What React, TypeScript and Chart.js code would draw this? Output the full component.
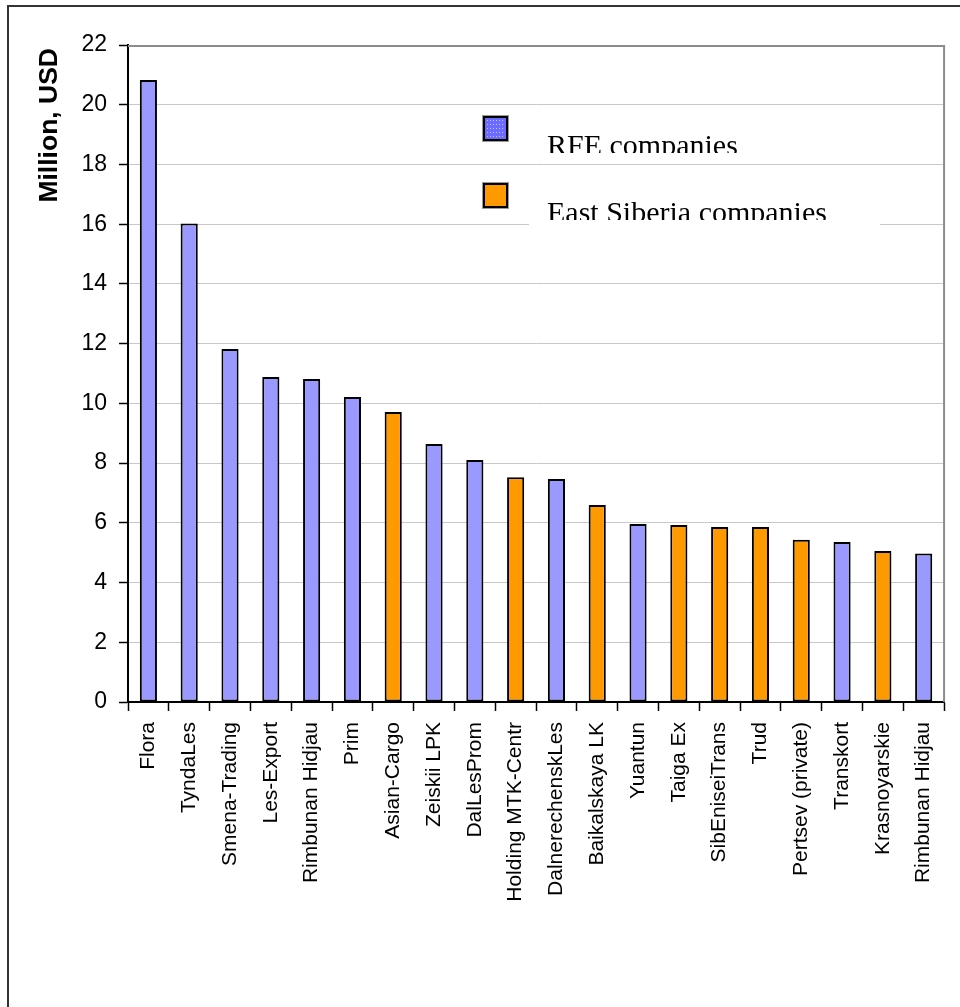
import React, { useEffect, useRef } from "react";
import { Chart, registerables } from "chart.js";

Chart.register(...registerables);

const categories = [
  "Flora",
  "TyndaLes",
  "Smena-Trading",
  "Les-Export",
  "Rimbunan Hidjau",
  "Prim",
  "Asian-Cargo",
  "Zeiskii LPK",
  "DalLesProm",
  "Holding MTK-Centr",
  "DalnerechenskLes",
  "Baikalskaya LK",
  "Yuantun",
  "Taiga Ex",
  "SibEniseiTrans",
  "Trud",
  "Pertsev (private)",
  "Transkort",
  "Krasnoyarskie",
  "Rimbunan Hidjau",
];

const values = [
  20.83, 16.02, 11.82, 10.88, 10.82, 10.21, 9.71, 8.64, 8.1, 7.53, 7.47, 6.6,
  5.96, 5.93, 5.86, 5.86, 5.43, 5.36, 5.06, 4.97,
];

const regions = [
  "RFE", "RFE", "RFE", "RFE", "RFE", "RFE", "ES", "RFE", "RFE", "ES",
  "RFE", "ES", "RFE", "ES", "ES", "ES", "ES", "RFE", "ES", "RFE",
];

const legendLabels = ["RFE companies", "East Siberia companies"];
const yTitle = "Million, USD";

const BLUE = "#9999ff";
const ORANGE = "#ff9900";
const SANS = '"Liberation Sans", Arial, sans-serif';
const SERIF = '"Liberation Serif", "Times New Roman", serif';

const decor = {
  id: "decor",
  beforeDatasetsDraw(chart: any) {
    const ctx = chart.ctx;
    ctx.save();
    ctx.fillStyle = "#ffffff";
    ctx.fillRect(529, 200, 351, 28);
    ctx.restore();
  },
  afterDraw(chart: any) {
    const ctx = chart.ctx;
    const ca = chart.chartArea;
    ctx.save();
    ctx.strokeStyle = "#8c8c8c";
    ctx.lineWidth = 2;
    ctx.beginPath();
    ctx.moveTo(ca.left, ca.top + 1);
    ctx.lineTo(ca.right, ca.top + 1);
    ctx.lineTo(ca.right, ca.bottom);
    ctx.stroke();

    ctx.save();
    ctx.translate(50, 48);
    ctx.rotate(-Math.PI / 2);
    ctx.font = `bold 26.5px ${SANS}`;
    ctx.fillStyle = "#000";
    ctx.textAlign = "right";
    ctx.textBaseline = "middle";
    ctx.fillText(yTitle, 0, 0);
    ctx.restore();

    const drawMarker = (y: number, fill: string, dotted: boolean) => {
      ctx.fillStyle = fill;
      ctx.fillRect(484, y + 1, 23, 23);
      if (dotted) {
        ctx.fillStyle = "#c4c4ff";
        for (let yy = y + 4; yy < y + 22; yy += 4) {
          for (let xx = 487; xx < 505; xx += 3) {
            ctx.fillRect(xx, yy, 1, 1);
          }
        }
      }
      ctx.strokeStyle = "#9a9a9a";
      ctx.lineWidth = 1;
      ctx.strokeRect(482.5, y - 0.5, 26, 26);
      ctx.strokeStyle = "#000";
      ctx.lineWidth = 2;
      ctx.strokeRect(484, y + 1, 23, 23);
    };
    drawMarker(116, "#6b6bff", true);
    drawMarker(183, ORANGE, false);

    ctx.fillStyle = "#000";
    ctx.font = `30px ${SERIF}`;
    ctx.textAlign = "left";
    ctx.textBaseline = "alphabetic";
    ctx.save();
    ctx.beginPath();
    ctx.rect(540, 100, 400, 53);
    ctx.clip();
    ctx.fillText(legendLabels[0], 547, 155);
    ctx.restore();
    ctx.save();
    ctx.beginPath();
    ctx.rect(540, 180, 400, 40);
    ctx.clip();
    ctx.fillText(legendLabels[1], 547, 222);
    ctx.restore();

    ctx.strokeStyle = "#333333";
    ctx.lineWidth = 2;
    ctx.strokeRect(8, 6, 1200, 1200);
    ctx.restore();
  },
};

export default function App() {
  const ref = useRef<HTMLCanvasElement | null>(null);

  useEffect(() => {
    if (!ref.current) return;
    const chart = new Chart(ref.current, {
      type: "bar",
      data: {
        labels: categories,
        datasets: [
          {
            data: values,
            backgroundColor: regions.map((r) => (r === "RFE" ? BLUE : ORANGE)),
            borderColor: "#000",
            borderWidth: 2,
            borderSkipped: false,
            barPercentage: 0.42,
            categoryPercentage: 1,
          },
        ],
      },
      options: {
        responsive: false,
        animation: false,
        layout: { padding: { left: 0, top: 45, right: 5, bottom: 0 } },
        plugins: {
          legend: { display: false },
          tooltip: { enabled: false },
          title: { display: false },
        },
        scales: {
          x: {
            type: "category",
            offset: true,
            grid: {
              display: true,
              drawOnChartArea: false,
              drawTicks: true,
              tickLength: 9,
              tickColor: "#000",
              tickWidth: 1.5,
              offset: true,
            },
            border: { display: true, color: "#000", width: 2 },
            ticks: {
              autoSkip: false,
              minRotation: 90,
              maxRotation: 90,
              padding: 11,
              color: "#000",
              font: { family: SANS, size: 21 },
            },
            afterFit: (s: any) => {
              s.height = 305;
            },
          },
          y: {
            min: 0,
            max: 22,
            ticks: {
              stepSize: 2,
              padding: 12,
              color: "#000",
              font: { family: SANS, size: 23 },
            },
            grid: {
              color: "#c8c8c8",
              lineWidth: 1,
              tickColor: "#000",
              tickLength: 9,
              tickWidth: 1.5,
            },
            border: { color: "#000", width: 2 },
            afterFit: (s: any) => {
              s.width = 128;
            },
          },
        },
      },
      plugins: [decor],
    });
    return () => chart.destroy();
  }, []);

  return (
    <div style={{ position: "fixed", left: 0, top: 0, width: 960, height: 1007, background: "#fff" }}>
      <canvas ref={ref} width={960} height={1007} style={{ display: "block", width: 960, height: 1007 }} />
    </div>
  );
}
